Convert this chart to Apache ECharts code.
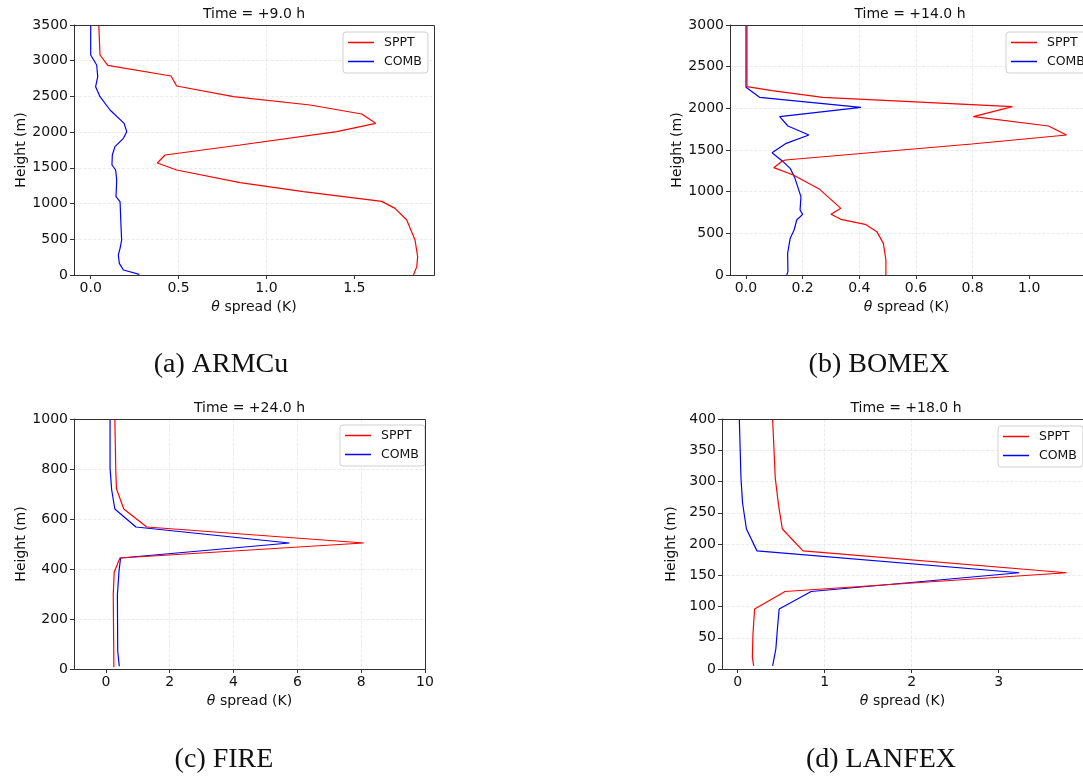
<!DOCTYPE html>
<html>
<head>
<meta charset="utf-8">
<script src="https://cdn.jsdelivr.net/npm/echarts@6/dist/echarts.min.js"></script>
<style>
html,body{margin:0;padding:0;background:#fff;}
#c{width:1083px;height:778px;}
</style>
</head>
<body>
<div id="c"></div>
<script>
// ---- Data: [theta spread (K), height (m)] ----
const seriesNames = ['SPPT', 'COMB'];
const panelTitles = ['Time = +9.0 h', 'Time = +14.0 h', 'Time = +24.0 h', 'Time = +18.0 h'];
const captions = ['(a) ARMCu', '(b) BOMEX', '(c) FIRE', '(d) LANFEX'];

const armcuSppt = [[0.046,3500],[0.053,3080],[0.097,2935],[0.457,2786],[0.489,2646],[0.812,2497],[1.248,2380],[1.542,2254],[1.621,2123],[1.400,2007],[0.85,1820],[0.423,1680],[0.379,1568],[0.489,1470],[0.85,1293],[1.21,1167],[1.656,1031],[1.731,933],[1.798,770],[1.845,490],[1.860,257],[1.855,117],[1.836,0]];
const armcuComb = [[0.0,3500],[0.0,3080],[0.034,2940],[0.040,2777],[0.028,2637],[0.053,2497],[0.110,2310],[0.190,2123],[0.205,2007],[0.186,1913],[0.138,1797],[0.123,1680],[0.121,1540],[0.142,1470],[0.148,1330],[0.144,1097],[0.167,1027],[0.171,770],[0.176,490],[0.167,373],[0.157,280],[0.163,163],[0.186,70],[0.277,9]];

const bomexSppt = [[0.0035,3000],[0.0035,2260],[0.092,2212],[0.271,2132],[0.941,2020],[0.803,1900],[1.068,1788],[1.132,1680],[0.797,1572],[0.139,1380],[0.125,1360],[0.098,1288],[0.167,1200],[0.26,1028],[0.335,800],[0.300,728],[0.335,668],[0.421,608],[0.462,520],[0.485,380],[0.494,180],[0.494,0]];
const bomexComb = [[0.0,3000],[0.0,2252],[0.048,2132],[0.406,2012],[0.119,1900],[0.148,1788],[0.222,1680],[0.142,1580],[0.092,1468],[0.127,1372],[0.156,1280],[0.173,1160],[0.194,940],[0.191,780],[0.200,728],[0.179,660],[0.170,540],[0.156,440],[0.147,260],[0.148,40],[0.144,0]];

const fireSppt = [[0.28,1000],[0.31,790],[0.33,721],[0.56,640],[1.28,568],[8.08,504],[0.44,444],[0.26,388],[0.23,297],[0.25,7]];
const fireComb = [[0.13,1000],[0.13,804],[0.18,717],[0.28,640],[0.94,568],[5.75,504],[0.46,444],[0.41,391],[0.36,297],[0.37,71],[0.42,11]];

const lanfexSppt = [[0.402,400],[0.432,306],[0.469,263],[0.514,224],[0.751,189],[3.78,154],[0.545,124],[0.195,96],[0.176,56],[0.169,19],[0.184,5]];
const lanfexComb = [[0.019,400],[0.038,306],[0.056,266],[0.101,224],[0.222,189],[3.237,154],[0.845,124],[0.477,96],[0.458,66],[0.439,32],[0.402,5]];

// axis ranges and tick labels
const xTicks = [[0,0.5,1.0,1.5],[0,0.2,0.4,0.6,0.8,1.0],[0,2,4,6,8,10],[0,1,2,3]];
const xDecimals = [1,1,0,0];
const xRanges = [[-0.095,1.953],[-0.0565,1.19],[-1,10],[-0.18,3.97]];
const yRanges = [[0,3500,500],[0,3000,500],[0,1000,200],[0,400,50]];

const panelData = [[armcuSppt, armcuComb],[bomexSppt, bomexComb],[fireSppt, fireComb],[lanfexSppt, lanfexComb]];

// ---- layout ----
const grids = [
  {left:74, top:25, width:360, height:250},
  {left:730, top:25, width:360, height:250},
  {left:74, top:419, width:351, height:250},
  {left:722, top:419, width:368, height:250}
];
const legendPos = [
  {left:343, top:32},
  {left:1006, top:32},
  {left:340, top:425},
  {left:998, top:426}
];
const colors = ['#ff0000', '#0000ff'];
const FONT = 'DejaVu Sans';

const option = {
  animation:false,
  backgroundColor:'#ffffff',
  textStyle:{fontFamily:FONT},
  grid: grids.map(g => Object.assign({show:false, containLabel:false}, g)),
  xAxis: grids.map((g,i) => ({
    type:'value', gridIndex:i, min:xRanges[i][0], max:xRanges[i][1],
    name:'{i|θ} spread (K)', nameLocation:'middle', nameGap:25,
    nameTextStyle:{fontFamily:FONT, fontSize:14, color:'#111', rich:{i:{fontStyle:'italic', fontFamily:FONT, fontSize:14, color:'#111'}}},
    axisLine:{show:true, onZero:false, lineStyle:{color:'#333', width:1}},
    axisTick:{show:true, inside:false, length:4, lineStyle:{color:'#333'}, customValues:xTicks[i]},
    axisLabel:{show:true, fontFamily:FONT, fontSize:14, color:'#111', margin:6, customValues:xTicks[i],
      formatter: v => Number(v).toFixed(xDecimals[i])},
    splitLine:{show:true, showMinLine:false, showMaxLine:false, lineStyle:{color:'#e6e6e6', type:'dashed', width:0.8}}
  })),
  yAxis: grids.map((g,i) => ({
    type:'value', gridIndex:i, min:yRanges[i][0], max:yRanges[i][1], interval:yRanges[i][2],
    name:'Height (m)', nameLocation:'middle', nameGap:44, nameRotate:90,
    nameTextStyle:{fontFamily:FONT, fontSize:14, color:'#111'},
    axisLine:{show:true, onZero:false, lineStyle:{color:'#333', width:1}},
    axisTick:{show:true, inside:false, length:4, lineStyle:{color:'#333'}},
    axisLabel:{show:true, fontFamily:FONT, fontSize:14, color:'#111', margin:6, formatter: v => String(v)},
    splitLine:{show:true, showMinLine:false, showMaxLine:false, lineStyle:{color:'#e6e6e6', type:'dashed', width:0.8}}
  })),
  legend: legendPos.map((p,i) => ({
    data:seriesNames, orient:'vertical', left:p.left, top:p.top,
    icon:'rect', itemWidth:26, itemHeight:1.5, itemGap:6,
    padding:[4,6,5,5], borderColor:'#d0d0d0', borderWidth:1, borderRadius:3,
    backgroundColor:'rgba(255,255,255,0.8)',
    textStyle:{fontFamily:FONT, fontSize:12.5, color:'#111', padding:[0,0,0,5]},
    selectedMode:false
  })),
  series: [],
  graphic: []
};

panelData.forEach((pd, i) => {
  pd.forEach((d, k) => {
    option.series.push({
      type:'line', name:seriesNames[k], xAxisIndex:i, yAxisIndex:i, data:d,
      symbol:'none', smooth:false, clip:true,
      lineStyle:{color:colors[k], width:1.2}, itemStyle:{color:colors[k]},
      z: k===0 ? 3 : 2
    });
  });
});

grids.forEach((g,i) => {
  // plot frame (spines)
  option.graphic.push({
    type:'rect', z:10, silent:true,
    shape:{x:g.left + 0.5, y:g.top + 0.5, width:g.width, height:g.height},
    style:{fill:'none', stroke:'#333', lineWidth:1}
  });
  option.graphic.push({
    type:'text', x:g.left + g.width/2, y:g.top - 11,
    style:{text:panelTitles[i], fontFamily:FONT, fontSize:14, fill:'#111', textAlign:'center', textVerticalAlign:'middle', verticalAlign:'middle'}
  });
});
const capPos = [[221,365],[879,365],[224,760],[881,760]];
capPos.forEach((c,i) => {
  option.graphic.push({
    type:'text', x:c[0], y:c[1],
    style:{text:captions[i], fontFamily:'Liberation Serif', fontSize:28, fill:'#111', textAlign:'center', textVerticalAlign:'middle', verticalAlign:'middle'}
  });
});

const chart = echarts.init(document.getElementById('c'), null, {renderer:'canvas'});
chart.setOption(option);
</script>
</body>
</html>
